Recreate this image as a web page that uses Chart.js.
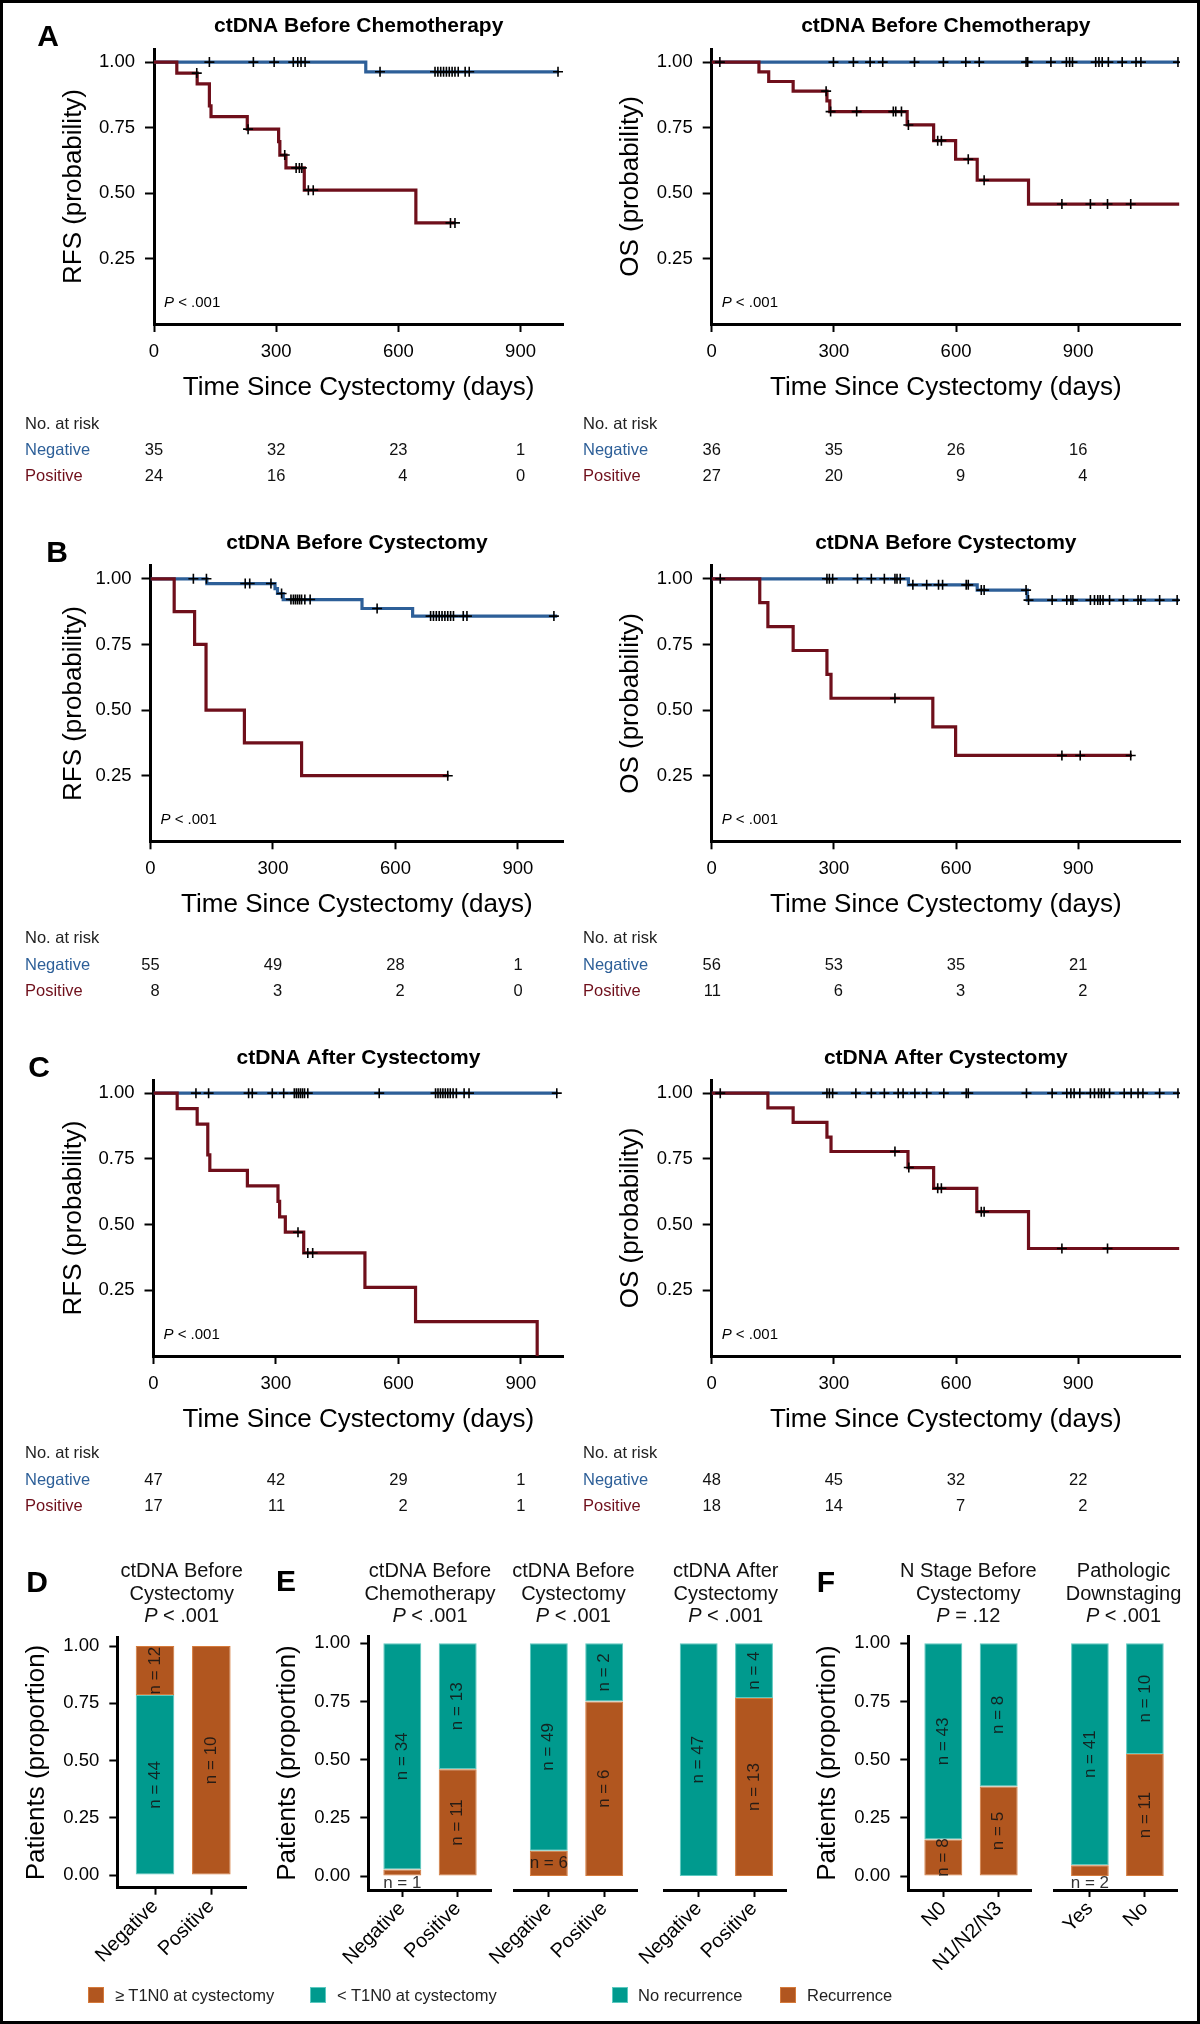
<!DOCTYPE html>
<html>
<head>
<meta charset="utf-8">
<script src="https://cdn.jsdelivr.net/npm/chart.js@4.4.1/dist/chart.umd.min.js"></script>
<style>
html,body{margin:0;padding:0;background:#fff;}
#fig{position:relative;width:1200px;height:2024px;overflow:hidden;background:#fff;}
#frame{position:absolute;left:0;top:0;width:1200px;height:2024px;box-sizing:border-box;border:3px solid #000;pointer-events:none;z-index:5;}
#fig canvas{position:absolute;}
.letter{position:absolute;font-family:"Liberation Sans",Arial,Helvetica,sans-serif;font-weight:bold;font-size:30px;line-height:30px;transform:translate(-50%,-50%);color:#000;}
.sw{position:absolute;width:16px;height:16px;box-sizing:border-box;border:1px solid;}
.lt{position:absolute;font-family:"Liberation Sans",Arial,Helvetica,sans-serif;font-size:16.5px;line-height:20px;color:#222;white-space:nowrap;}
</style>
</head>
<body>
<div id="fig"><div id="frame"></div></div>
<script>
const FONT = '"Liberation Sans", Arial, Helvetica, sans-serif';
const BLUE = '#2d5f98';
const RED = '#6f0f1b';
const TEAL = '#009a8e';
const TEAL_EDGE = '#5cc9c0';
const ORANGE = '#b1561f';
const ORANGE_EDGE = '#d57a3b';

// ---------- Kaplan-Meier axes ----------
const kmXTicks = [0, 300, 600, 900];
const kmYTicks = [0.25, 0.50, 0.75, 1.00];
const riskTimes = [0, 300, 600, 900];
const kmXLabel = 'Time Since Cystectomy (days)';

// ---------- Panel A: ctDNA before chemotherapy ----------
const aRfsNegT = [0, 520, 994];
const aRfsNegS = [1, 0.963, 0.963];
const aRfsNegC = [136, 244, 295, 342, 353, 361, 371, 555, 690, 697, 704, 711, 718, 725, 732, 739, 747, 764, 774, 992];
const aRfsPosT = [0, 56, 106, 136, 140, 229, 306, 309, 324, 369, 643, 740];
const aRfsPosS = [1, 0.958, 0.917, 0.833, 0.792, 0.744, 0.696, 0.645, 0.596, 0.511, 0.386, 0.386];
const aRfsPosC = [105, 231, 321, 349, 357, 363, 379, 391, 728, 739];
const aRfsRiskNeg = [35, 32, 23, 1];
const aRfsRiskPos = [24, 16, 4, 0];

const aOsNegT = [0, 1148];
const aOsNegS = [1, 1];
const aOsNegC = [20, 299, 348, 389, 420, 498, 569, 624, 657, 772, 776, 833, 871, 879, 886, 943, 951, 959, 974, 1008, 1042, 1054, 1145];
const aOsPosT = [0, 116, 140, 200, 283, 290, 480, 545, 599, 652, 778, 1148];
const aOsPosS = [1, 0.963, 0.926, 0.889, 0.852, 0.811, 0.760, 0.700, 0.629, 0.549, 0.458, 0.458];
const aOsPosC = [281, 292, 356, 446, 452, 466, 483, 555, 564, 630, 669, 860, 930, 972, 1029];
const aOsRiskNeg = [36, 35, 26, 16];
const aOsRiskPos = [27, 20, 9, 4];

// ---------- Panel B: ctDNA before cystectomy ----------
const bRfsNegT = [0, 138, 305, 311, 325, 518, 642, 996];
const bRfsNegS = [1, 0.982, 0.963, 0.944, 0.921, 0.887, 0.858, 0.858];
const bRfsNegC = [105, 137, 232, 243, 295, 321, 344, 350, 355, 360, 365, 370, 378, 391, 555, 686, 693, 700, 707, 714, 721, 728, 735, 742, 766, 775, 988];
const bRfsPosT = [0, 58, 108, 136, 230, 370, 730];
const bRfsPosS = [1, 0.875, 0.75, 0.5, 0.375, 0.25, 0.25];
const bRfsPosC = [728];
const bRfsRiskNeg = [55, 49, 28, 1];
const bRfsRiskPos = [8, 3, 2, 0];

const bOsNegT = [0, 483, 652, 775, 1148];
const bOsNegS = [1, 0.977, 0.957, 0.919, 0.919];
const bOsNegC = [21, 283, 289, 297, 358, 392, 424, 450, 455, 463, 494, 528, 557, 567, 625, 630, 662, 669, 772, 778, 836, 872, 882, 887, 930, 940, 948, 954, 961, 977, 1011, 1047, 1054, 1100, 1143];
const bOsPosT = [0, 118, 138, 200, 283, 293, 543, 599, 1032];
const bOsPosS = [1, 0.909, 0.818, 0.727, 0.636, 0.545, 0.436, 0.327, 0.327];
const bOsPosC = [450, 860, 905, 1029];
const bOsRiskNeg = [56, 53, 35, 21];
const bOsRiskPos = [11, 6, 3, 2];

// ---------- Panel C: ctDNA after cystectomy ----------
const cRfsNegT = [0, 990];
const cRfsNegS = [1, 1];
const cRfsNegC = [104, 135, 233, 242, 291, 319, 345, 350, 355, 360, 365, 370, 378, 553, 691, 697, 703, 709, 715, 721, 727, 734, 742, 761, 773, 988];
const cRfsPosT = [0, 58, 107, 133, 138, 230, 305, 309, 323, 368, 518, 642, 940];
const cRfsPosS = [1, 0.941, 0.882, 0.765, 0.706, 0.647, 0.588, 0.529, 0.471, 0.392, 0.261, 0.131, 0];
const cRfsPosC = [354, 378, 390];
const cRfsRiskNeg = [47, 42, 29, 1];
const cRfsRiskPos = [17, 11, 2, 1];

const cOsNegT = [0, 1148];
const cOsNegS = [1, 1];
const cOsNegC = [21, 283, 289, 297, 354, 392, 424, 458, 470, 499, 528, 570, 625, 630, 773, 836, 872, 882, 890, 904, 930, 940, 950, 957, 964, 977, 1013, 1030, 1047, 1059, 1100, 1145];
const cOsPosT = [0, 138, 200, 283, 293, 482, 545, 651, 778, 1148];
const cOsPosS = [1, 0.944, 0.889, 0.833, 0.778, 0.717, 0.638, 0.549, 0.409, 0.409];
const cOsPosC = [450, 484, 555, 564, 662, 669, 860, 972];
const cOsRiskNeg = [48, 45, 32, 22];
const cOsRiskPos = [18, 14, 7, 2];

// ---------- Bar panels ----------
const barYTicks = [0, 0.25, 0.50, 0.75, 1.00];
const ctCats = ['Negative', 'Positive'];
// D: pathologic stage at cystectomy by ctDNA before cystectomy
const dBelowT1N0 = [44, 0];
const dAtLeastT1N0 = [12, 10];
// E: recurrence by ctDNA status
const e1Rec = [1, 11];   const e1NoRec = [34, 13];
const e2Rec = [6, 6];    const e2NoRec = [49, 2];
const e3Rec = [0, 13];   const e3NoRec = [47, 4];
// F
const f1Cats = ['N0', 'N1/N2/N3'];
const f1Rec = [8, 5];    const f1NoRec = [43, 8];
const f2Cats = ['Yes', 'No'];
const f2Rec = [2, 11];   const f2NoRec = [41, 10];

Chart.defaults.font.family = FONT;
Chart.defaults.color = '#000';

const fig = document.getElementById('fig');

function stepAt(T, S, t) {
  let v = S[0];
  for (let i = 0; i < T.length; i++) { if (T[i] <= t) v = S[i]; }
  return v;
}

function drawPText(ctx, x, y, rest, size, align) {
  ctx.textBaseline = 'middle';
  ctx.font = 'italic ' + size + 'px ' + FONT;
  const wP = ctx.measureText('P').width;
  ctx.font = size + 'px ' + FONT;
  const wR = ctx.measureText(rest).width;
  let x0 = x;
  if (align === 'center') x0 = x - (wP + wR) / 2;
  ctx.textAlign = 'left';
  ctx.font = 'italic ' + size + 'px ' + FONT;
  ctx.fillText('P', x0, y);
  ctx.font = size + 'px ' + FONT;
  ctx.fillText(rest, x0 + wP, y);
}

function makeCanvas(left, top, w, h) {
  const cv = document.createElement('canvas');
  cv.width = w; cv.height = h;
  cv.style.left = left + 'px'; cv.style.top = top + 'px';
  cv.style.width = w + 'px'; cv.style.height = h + 'px';
  fig.appendChild(cv);
  return cv;
}

function makeKM(o) {
  const H = 500;
  const cv = makeCanvas(o.left, o.top, o.w, H);
  const cens = (T, S, C) => C.map(t => ({x: t, y: stepAt(T, S, t)}));
  const line = (T, S) => T.map((t, i) => ({x: t, y: S[i]}));
  const crossDs = (data) => ({data, showLine: false, pointStyle: 'cross', pointRadius: 5, pointBorderWidth: 1.6,
    pointBorderColor: '#000', borderColor: '#000', pointBackgroundColor: '#000'});
  const textPlugin = {
    id: 'kmtext',
    afterDraw(chart) {
      const ctx = chart.ctx, a = chart.chartArea, xs = chart.scales.x;
      ctx.save();
      ctx.fillStyle = '#000';
      ctx.font = 'bold 21px ' + FONT;
      ctx.textAlign = 'center'; ctx.textBaseline = 'middle';
      ctx.fillText(o.title, (a.left + a.right) / 2, o.titleY);
      drawPText(ctx, a.left + 10, a.bottom - 21, ' < .001', 15, 'left');
      // risk table
      ctx.font = '16.5px ' + FONT;
      ctx.textAlign = 'left';
      ctx.fillStyle = '#222';
      ctx.fillText('No. at risk', o.riskX, o.riskY[0]);
      ctx.fillStyle = BLUE; ctx.fillText('Negative', o.riskX, o.riskY[1]);
      ctx.fillStyle = RED; ctx.fillText('Positive', o.riskX, o.riskY[2]);
      ctx.fillStyle = '#111';
      ctx.textAlign = 'right';
      riskTimes.forEach((t, i) => {
        const px = xs.getPixelForValue(t);
        const s1 = String(o.riskNeg[i]), s2 = String(o.riskPos[i]);
        const w = Math.max(ctx.measureText(s1).width, ctx.measureText(s2).width);
        ctx.fillText(s1, px + w / 2, o.riskY[1]);
        ctx.fillText(s2, px + w / 2, o.riskY[2]);
      });
      ctx.restore();
    }
  };
  new Chart(cv, {
    type: 'line',
    data: {datasets: [
      crossDs(cens(o.posT, o.posS, o.posC)),
      crossDs(cens(o.negT, o.negS, o.negC)),
      {data: line(o.posT, o.posS), stepped: true, borderColor: RED, borderWidth: 3.2, pointRadius: 0, fill: false},
      {data: line(o.negT, o.negS), stepped: true, borderColor: BLUE, borderWidth: 3.2, pointRadius: 0, fill: false}
    ]},
    options: {
      responsive: false, animation: false, devicePixelRatio: 1, events: [],
      layout: {padding: {left: 0, top: o.areaTop, right: o.w - o.areaRight, bottom: H - o.areaBottom - 80}},
      plugins: {legend: {display: false}, tooltip: {enabled: false}, title: {display: false}},
      scales: {
        x: {
          type: 'linear', min: 0, max: o.xMax,
          afterBuildTicks: s => { s.ticks = kmXTicks.map(v => ({value: v})); },
          afterFit: s => { s.height = 80; s.paddingLeft = 0; s.paddingRight = 0; },
          ticks: {font: {family: FONT, size: 18.5}, color: '#000', padding: 9, maxRotation: 0, minRotation: 0, autoSkip: false, callback: v => String(v)},
          grid: {display: true, drawOnChartArea: false, drawTicks: true, tickLength: 8, tickWidth: 2, tickColor: '#000'},
          border: {display: true, color: '#000', width: 3},
          title: {display: true, text: kmXLabel, font: {family: FONT, size: 26}, color: '#000', padding: {top: 0, bottom: 1}}
        },
        y: {
          type: 'linear', min: 0, max: 1.05,
          afterBuildTicks: s => { s.ticks = kmYTicks.map(v => ({value: v})); },
          afterFit: s => { s.width = o.areaLeft; s.paddingTop = 0; s.paddingBottom = 0; },
          ticks: {font: {family: FONT, size: 18.5}, color: '#000', padding: 10, autoSkip: false, callback: v => Number(v).toFixed(2)},
          grid: {display: true, drawOnChartArea: false, drawTicks: true, tickLength: 9, tickWidth: 2, tickColor: '#000'},
          border: {display: true, color: '#000', width: 3},
          title: {display: true, text: o.ylabel, font: {family: FONT, size: 26}, color: '#000', padding: {top: o.yTitlePad, bottom: 0}}
        }
      }
    },
    plugins: [textPlugin]
  });
}

function makeBar(o) {
  const H = 440;
  const cv = makeCanvas(o.left, 1560, o.w, H);
  const frac = (a, b, i) => (a[i] + b[i]) > 0 ? a[i] / (a[i] + b[i]) : 0;
  const mk = (nums, other, bg, edge) => ({
    data: o.cats.map((c, i) => ({x: i + 1, y: frac(nums, other, i)})),
    counts: nums, backgroundColor: bg, borderColor: edge, borderWidth: 1,
    barPercentage: 0.685, categoryPercentage: 1, borderSkipped: false
  });
  const labelPlugin = {
    id: 'barlabels',
    afterDatasetsDraw(chart) {
      const ctx = chart.ctx, ys = chart.scales.y;
      ctx.save();
      ctx.fillStyle = 'rgba(20,20,20,0.88)';
      ctx.font = '17px ' + FONT;
      ctx.textAlign = 'center'; ctx.textBaseline = 'middle';
      chart.data.datasets.forEach((ds, di) => {
        chart.getDatasetMeta(di).data.forEach((el, i) => {
          const n = ds.counts[i];
          if (!n) return;
          const top = Math.min(el.y, el.base), bot = Math.max(el.y, el.base);
          const h = bot - top, cy = (top + bot) / 2;
          const txt = 'n = ' + n;
          if (h < 15) {
            ctx.fillText(txt, el.x, ys.getPixelForValue(-0.031));
          } else if (h < 30) {
            ctx.fillText(txt, el.x, cy);
          } else {
            ctx.save(); ctx.translate(el.x, cy); ctx.rotate(-Math.PI / 2);
            ctx.fillText(txt, 0, 0); ctx.restore();
          }
        });
      });
      // title
      ctx.fillStyle = '#111';
      ctx.font = '20px ' + FONT;
      o.title.forEach((t, k) => ctx.fillText(t, o.titleX, o.titleY[k]));
      drawPText(ctx, o.titleX, o.titleY[2], o.p, 20, 'center');
      ctx.restore();
    }
  };
  new Chart(cv, {
    type: 'bar',
    data: {datasets: [mk(o.bottomN, o.topN, o.bottomColor, o.bottomEdge), mk(o.topN, o.bottomN, o.topColor, o.topEdge)]},
    options: {
      responsive: false, animation: false, devicePixelRatio: 1, events: [],
      layout: {padding: {left: o.showY ? 0 : o.areaLeft, top: o.areaTop, right: o.w - o.areaRight, bottom: H - o.areaBottom - 80}},
      plugins: {legend: {display: false}, tooltip: {enabled: false}, title: {display: false}},
      scales: {
        x: {
          type: 'linear', min: o.xMin, max: o.xMax, offset: false, stacked: true,
          afterBuildTicks: s => { s.ticks = o.cats.map((c, i) => ({value: i + 1})); },
          afterFit: s => { s.height = 80; s.paddingLeft = 0; s.paddingRight = 0; },
          ticks: {font: {family: FONT, size: 20}, color: '#000', padding: 0, minRotation: 45, maxRotation: 45, autoSkip: false,
            callback: v => o.cats[Math.round(v) - 1]},
          grid: {display: true, offset: false, drawOnChartArea: false, drawTicks: true, tickLength: 7, tickWidth: 2, tickColor: '#000'},
          border: {display: true, color: '#000', width: 3}
        },
        y: {
          type: 'linear', min: o.yMin, max: o.yMax, stacked: true, display: o.showY,
          afterBuildTicks: s => { s.ticks = barYTicks.map(v => ({value: v})); },
          afterFit: s => { if (o.showY) s.width = o.areaLeft; s.paddingTop = 0; s.paddingBottom = 0; },
          ticks: {font: {family: FONT, size: 18.5}, color: '#000', padding: 10, autoSkip: false, callback: v => Number(v).toFixed(2)},
          grid: {display: true, drawOnChartArea: false, drawTicks: true, tickLength: 8, tickWidth: 2, tickColor: '#000'},
          border: {display: true, color: '#000', width: 3},
          title: {display: true, text: 'Patients (proportion)', font: {family: FONT, size: 26}, color: '#000', padding: {top: o.yTitlePad, bottom: 0}}
        }
      }
    },
    plugins: [labelPlugin]
  });
}

// ---------- build KM panels ----------
const rows = [
  {top: 0, areaTop: 49, areaBottom: 324, leftArea: 154, leftXMax: 1005, titleY: 26.7, riskY: [424, 450.7, 476.7],
   title: 'ctDNA Before Chemotherapy',
   rfs: [aRfsNegT, aRfsNegS, aRfsNegC, aRfsPosT, aRfsPosS, aRfsPosC, aRfsRiskNeg, aRfsRiskPos],
   os: [aOsNegT, aOsNegS, aOsNegC, aOsPosT, aOsPosS, aOsPosC, aOsRiskNeg, aOsRiskPos]},
  {top: 516, areaTop: 49.7, areaBottom: 325.3, leftArea: 150.5, leftXMax: 1011, titleY: 27.3, riskY: [422.3, 449, 475.7],
   title: 'ctDNA Before Cystectomy',
   rfs: [bRfsNegT, bRfsNegS, bRfsNegC, bRfsPosT, bRfsPosS, bRfsPosC, bRfsRiskNeg, bRfsRiskPos],
   os: [bOsNegT, bOsNegS, bOsNegC, bOsPosT, bOsPosS, bOsPosC, bOsRiskNeg, bOsRiskPos]},
  {top: 1031, areaTop: 49, areaBottom: 325, leftArea: 153.5, leftXMax: 1004, titleY: 27.3, riskY: [422.3, 449, 475.7],
   title: 'ctDNA After Cystectomy',
   rfs: [cRfsNegT, cRfsNegS, cRfsNegC, cRfsPosT, cRfsPosS, cRfsPosC, cRfsRiskNeg, cRfsRiskPos],
   os: [cOsNegT, cOsNegS, cOsNegC, cOsPosT, cOsPosS, cOsPosC, cOsRiskNeg, cOsRiskPos]}
];
rows.forEach(r => {
  const R = r.rfs, O = r.os;
  makeKM({left: 0, top: r.top, w: 580, areaLeft: r.leftArea, areaRight: 563.3, areaTop: r.areaTop, areaBottom: r.areaBottom,
    xMax: r.leftXMax, ylabel: 'RFS (probability)', yTitlePad: 58, title: r.title, titleY: r.titleY,
    negT: R[0], negS: R[1], negC: R[2], posT: R[3], posS: R[4], posC: R[5], riskNeg: R[6], riskPos: R[7],
    riskX: 25, riskY: r.riskY});
  makeKM({left: 580, top: r.top, w: 620, areaLeft: 131.7, areaRight: 600, areaTop: r.areaTop, areaBottom: r.areaBottom,
    xMax: 1150, ylabel: 'OS (probability)', yTitlePad: 35, title: r.title, titleY: r.titleY,
    negT: O[0], negS: O[1], negC: O[2], posT: O[3], posS: O[4], posC: O[5], riskNeg: O[6], riskPos: O[7],
    riskX: 3, riskY: r.riskY});
});

// ---------- build bar panels ----------
const tY = [11.7, 34.3, 56.7];
makeBar({left: 0, w: 262, areaLeft: 117.3, areaRight: 246, areaTop: 77.3, areaBottom: 327.7, yMin: -0.055, yMax: 1.038,
  xMin: 0.33, xMax: 2.616, showY: true, yTitlePad: 21, cats: ctCats,
  bottomN: dBelowT1N0, topN: dAtLeastT1N0, bottomColor: TEAL, bottomEdge: TEAL_EDGE, topColor: ORANGE, topEdge: ORANGE_EDGE,
  title: ['ctDNA Before', 'Cystectomy'], p: ' < .001', titleX: 181.7, titleY: tY});
makeBar({left: 262, w: 240, areaLeft: 106.3, areaRight: 229.7, areaTop: 76, areaBottom: 330, yMin: -0.06, yMax: 1.031,
  xMin: 0.386, xMax: 2.614, showY: true, yTitlePad: 10.7, cats: ctCats,
  bottomN: e1Rec, topN: e1NoRec, bottomColor: ORANGE, bottomEdge: ORANGE_EDGE, topColor: TEAL, topEdge: TEAL_EDGE,
  title: ['ctDNA Before', 'Chemotherapy'], p: ' < .001', titleX: 168, titleY: tY});
makeBar({left: 430, w: 217, areaLeft: 84.8, areaRight: 207.1, areaTop: 76, areaBottom: 330, yMin: -0.06, yMax: 1.031,
  xMin: 0.386, xMax: 2.594, showY: false, yTitlePad: 0, cats: ctCats,
  bottomN: e2Rec, topN: e2NoRec, bottomColor: ORANGE, bottomEdge: ORANGE_EDGE, topColor: TEAL, topEdge: TEAL_EDGE,
  title: ['ctDNA Before', 'Cystectomy'], p: ' < .001', titleX: 143.4, titleY: tY});
makeBar({left: 590, w: 210, areaLeft: 74, areaRight: 196.7, areaTop: 76, areaBottom: 330, yMin: -0.06, yMax: 1.031,
  xMin: 0.373, xMax: 2.591, showY: false, yTitlePad: 0, cats: ctCats,
  bottomN: e3Rec, topN: e3NoRec, bottomColor: ORANGE, bottomEdge: ORANGE_EDGE, topColor: TEAL, topEdge: TEAL_EDGE,
  title: ['ctDNA After', 'Cystectomy'], p: ' < .001', titleX: 135.7, titleY: tY});
makeBar({left: 800, w: 240, areaLeft: 108.3, areaRight: 231.7, areaTop: 76, areaBottom: 330, yMin: -0.06, yMax: 1.031,
  xMin: 0.368, xMax: 2.596, showY: true, yTitlePad: 12.7, cats: f1Cats,
  bottomN: f1Rec, topN: f1NoRec, bottomColor: ORANGE, bottomEdge: ORANGE_EDGE, topColor: TEAL, topEdge: TEAL_EDGE,
  title: ['N Stage Before', 'Cystectomy'], p: ' = .12', titleX: 168.3, titleY: tY});
makeBar({left: 1040, w: 155, areaLeft: 14.6, areaRight: 137.9, areaTop: 76, areaBottom: 330, yMin: -0.06, yMax: 1.031,
  xMin: 0.358, xMax: 2.6, showY: false, yTitlePad: 0, cats: f2Cats,
  bottomN: f2Rec, topN: f2NoRec, bottomColor: ORANGE, bottomEdge: ORANGE_EDGE, topColor: TEAL, topEdge: TEAL_EDGE,
  title: ['Pathologic', 'Downstaging'], p: ' < .001', titleX: 83.5, titleY: tY});

// ---------- panel letters ----------
[['A', 48, 36], ['B', 57, 552], ['C', 39, 1067], ['D', 37, 1582], ['E', 286, 1581], ['F', 826, 1582]].forEach(l => {
  const d = document.createElement('div');
  d.className = 'letter'; d.textContent = l[0];
  d.style.left = l[1] + 'px'; d.style.top = l[2] + 'px';
  fig.appendChild(d);
});

// ---------- legends ----------
const legendItems = [
  {x: 88, color: ORANGE, edge: ORANGE_EDGE, text: '\u2265 T1N0 at cystectomy', tx: 115},
  {x: 310, color: TEAL, edge: TEAL_EDGE, text: '< T1N0 at cystectomy', tx: 337},
  {x: 612, color: TEAL, edge: TEAL_EDGE, text: 'No recurrence', tx: 638},
  {x: 780, color: ORANGE, edge: ORANGE_EDGE, text: 'Recurrence', tx: 807}
];
legendItems.forEach(it => {
  const s = document.createElement('div');
  s.className = 'sw'; s.style.left = it.x + 'px'; s.style.top = '1987px';
  s.style.background = it.color; s.style.borderColor = it.edge;
  fig.appendChild(s);
  const t = document.createElement('div');
  t.className = 'lt'; t.textContent = it.text;
  t.style.left = it.tx + 'px'; t.style.top = '1985px';
  fig.appendChild(t);
});
</script>
</body>
</html>
